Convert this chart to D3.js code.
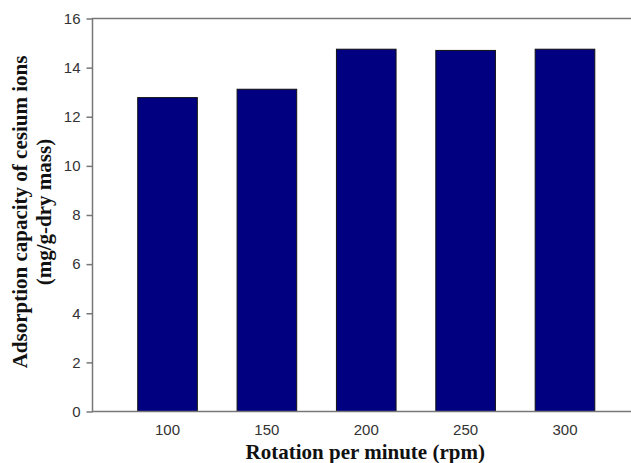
<!DOCTYPE html>
<html>
<head>
<meta charset="utf-8">
<script src="https://cdn.jsdelivr.net/npm/d3@7"></script>
<style>
  body { margin: 0; background: #fff; }
  svg { display: block; }
</style>
</head>
<body>
<div id="chart"></div>
<script>
// data
const rpm = ["100", "150", "200", "250", "300"];
const capacity = [12.78, 13.12, 14.75, 14.7, 14.75];
const yTicks = [0, 2, 4, 6, 8, 10, 12, 14, 16];

const width = 631;
const height = 463;
// plot box (right edge runs past the window, as in the original)
const plotLeft = 92.5, plotRight = 640, plotTop = 18.5, plotBottom = 411.5;

const svg = d3.select("#chart")
  .append("svg")
  .attr("width", width)
  .attr("height", height);

//----------------------------SCALES----------------------------//
const x = d3.scaleBand()
  .domain(rpm)
  .range([plotLeft, plotRight])
  .paddingInner(0.4)
  .paddingOuter(0.455);

const y = d3.scaleLinear()
  .domain([0, 16])
  .range([plotBottom, plotTop]);

//-----------------------------BARS-----------------------------//
svg.append("g")
  .selectAll("rect")
  .data(rpm.map((r, i) => ({ rpm: r, value: capacity[i] })))
  .join("rect")
  .attr("x", d => x(d.rpm))
  .attr("y", d => y(d.value))
  .attr("width", x.bandwidth())
  .attr("height", d => y(0) - y(d.value))
  .attr("fill", "#000080")
  .attr("stroke", "#111")
  .attr("stroke-width", 1);

//-----------------------------FRAME----------------------------//
svg.append("rect")
  .attr("x", plotLeft)
  .attr("y", plotTop)
  .attr("width", plotRight - plotLeft)
  .attr("height", plotBottom - plotTop)
  .attr("fill", "none")
  .attr("stroke", "#777")
  .attr("stroke-width", 1.5);

//-----------------------------AXES-----------------------------//
const yAxis = svg.append("g")
  .attr("transform", "translate(" + plotLeft + ",0)")
  .call(d3.axisLeft(y).tickValues(yTicks).tickSize(6).tickPadding(6));

const xAxis = svg.append("g")
  .attr("transform", "translate(0," + plotBottom + ")")
  .call(d3.axisBottom(x).tickSize(0).tickPadding(13));

[yAxis, xAxis].forEach(g => {
  g.select(".domain").remove();
  g.selectAll("line").attr("stroke", "#777").attr("stroke-width", 1.5);
  g.selectAll("text")
    .attr("fill", "#333")
    .style("font-family", "'Liberation Sans', Arial, sans-serif")
    .style("font-size", "15px");
});

//----------------------------LABELS----------------------------//
svg.append("text")
  .attr("x", (plotLeft + plotRight) / 2 - 1)
  .attr("y", 459)
  .attr("text-anchor", "middle")
  .style("font-family", "'Liberation Serif', 'Times New Roman', serif")
  .style("font-weight", "bold")
  .style("font-size", "21px")
  .attr("fill", "#111")
  .text("Rotation per minute (rpm)");

const yLabel = svg.append("text")
  .attr("transform", "translate(27," + 212 + ") rotate(-90)")
  .attr("text-anchor", "middle")
  .style("font-family", "'Liberation Serif', 'Times New Roman', serif")
  .style("font-weight", "bold")
  .style("font-size", "21px")
  .attr("fill", "#111");

yLabel.append("tspan")
  .attr("x", 0)
  .attr("y", 0)
  .text("Adsorption capacity of cesium ions");

yLabel.append("tspan")
  .attr("x", 0)
  .attr("y", 24)
  .text("(mg/g-dry mass)");
</script>
</body>
</html>
